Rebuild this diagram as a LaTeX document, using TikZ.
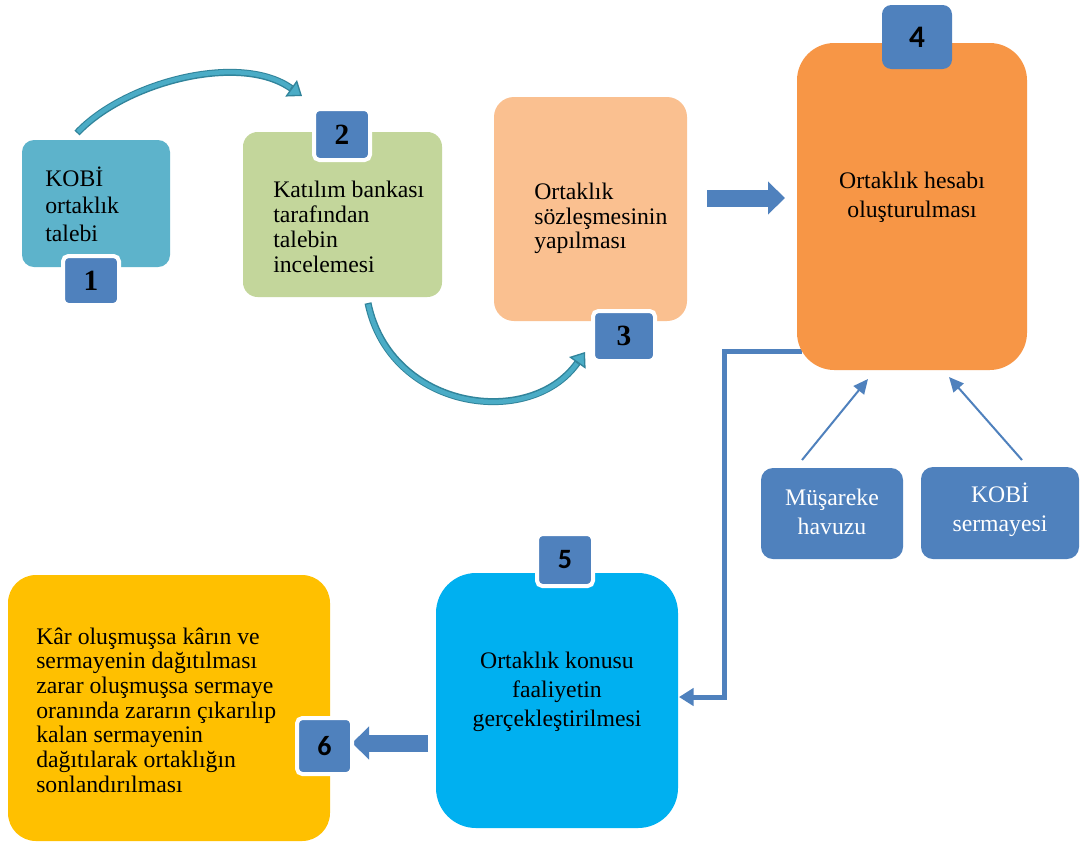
\documentclass[tikz,border=0pt]{standalone}
\usepackage{fontspec}
\setmainfont{Liberation Serif}
\newfontfamily\numsansfont{Carlito}
\usetikzlibrary{arrows.meta}
\definecolor{cBoxA}{HTML}{5DB3CB}
\definecolor{cBoxB}{HTML}{C3D69B}
\definecolor{cBoxC}{HTML}{FAC090}
\definecolor{cBoxD}{HTML}{F79646}
\definecolor{cBoxE}{HTML}{00B0F0}
\definecolor{cBoxF}{HTML}{FFC000}
\definecolor{cBlue}{HTML}{4F81BD}
\definecolor{cArcL}{HTML}{4BACC6}
\definecolor{cArcD}{HTML}{31849B}
\newcommand\pxu{0.75pt}
\begin{document}
\begin{tikzpicture}[x=0.75pt,y=-0.75pt,
  box/.style={rectangle, inner sep=0pt, draw=none},
  badge/.style={rectangle, inner sep=0pt, fill=cBlue, draw=white, line width=3pt, rounded corners=4pt},
  badgeplain/.style={rectangle, inner sep=0pt, fill=cBlue, draw=none, rounded corners=7pt},
  numserif/.style={font=\fontsize{22pt}{24pt}\selectfont\bfseries},
  numsans/.style={font=\fontsize{21pt}{24pt}\selectfont\numsansfont\bfseries},
  txt/.style={inner sep=0pt, font=\fontsize{17.8pt}{#1}\selectfont},
  arcout/.style={draw=cArcD, line width=7*\pxu, -{Triangle[length=10pt, width=15pt, fill=cArcL, line width=1pt]}},
  arcin/.style={draw=cArcL, line width=4.5*\pxu, shorten >=10.5pt, shorten <=1pt},
  fat/.style={draw=cBlue, line width=17*\pxu, -{Triangle[length=17*\pxu, width=32*\pxu]}},
  elbow/.style={draw=cBlue, line width=5*\pxu, -{Triangle[length=11pt, width=13pt]}},
  thin/.style={draw=cBlue, line width=2*\pxu, -{Triangle[length=11pt, width=10pt]}}
]
\useasboundingbox (0,0) rectangle (1080,843);
\fill[white] (0,0) rectangle (1080,843);

% connectors (under boxes)
\coordinate (a12s) at (77,133);
\coordinate (a12e) at (302,96);
\draw[arcout] (a12s) .. controls (125,82) and (240,52) .. (a12e);
\draw[arcin] (a12s) .. controls (125,82) and (240,52) .. (a12e);

\coordinate (a23s) at (368,303);
\coordinate (a23e) at (585,352);
\draw[arcout] (a23s) .. controls (390,410) and (530,430) .. (a23e);
\draw[arcin] (a23s) .. controls (390,410) and (530,430) .. (a23e);

\coordinate (f34s) at (707,198);
\coordinate (f34e) at (785,198);
\draw[fat] (f34s) -- (f34e);

\coordinate (e4s) at (802,351);
\coordinate (e4c1) at (724,351);
\coordinate (e4c2) at (724,697);
\coordinate (e5e) at (679,697);
\draw[elbow] (e4s) -- (e4c1) -- (e4c2) -- (e5e);

\coordinate (f56s) at (428,743);
\coordinate (f56e) at (352,743);
\draw[fat] (f56s) -- (f56e);

\coordinate (m1s) at (802,460);
\coordinate (m1e) at (868,379);
\draw[thin] (m1s) -- (m1e);
\coordinate (m2s) at (1022,460);
\coordinate (m2e) at (949,377);
\draw[thin] (m2s) -- (m2e);

% boxes
\node[box, fill=cBoxA, rounded corners=9pt, minimum width=148*\pxu, minimum height=127*\pxu] (b1) at (96,203.5) {};
\node[box, fill=cBoxB, rounded corners=11pt, minimum width=199*\pxu, minimum height=165*\pxu] (b2) at (342.5,214.5) {};
\node[box, fill=cBoxC, rounded corners=15pt, minimum width=193*\pxu, minimum height=224*\pxu] (b3) at (590.5,209) {};
\node[box, fill=cBoxD, rounded corners=28pt, minimum width=230*\pxu, minimum height=327*\pxu] (b4) at (912,206.5) {};
\node[box, fill=cBoxE, rounded corners=30pt, minimum width=242*\pxu, minimum height=255*\pxu] (b5) at (557,700.5) {};
\node[box, fill=cBoxF, rounded corners=21pt, minimum width=322*\pxu, minimum height=266*\pxu] (b6) at (169,708) {};
\node[box, fill=cBlue, rounded corners=9pt, minimum width=142*\pxu, minimum height=91*\pxu] (m1) at (832,513.5) {};
\node[box, fill=cBlue, rounded corners=9pt, minimum width=158*\pxu, minimum height=92*\pxu] (m2) at (1000,513) {};

% badges
\node[badge, numserif, minimum width=56*\pxu, minimum height=49*\pxu] (n1) at (91,280.5) {1};
\node[badge, numserif, minimum width=56*\pxu, minimum height=51*\pxu] (n2) at (342,134.5) {2};
\node[badge, numserif, minimum width=62*\pxu, minimum height=50*\pxu] (n3) at (624,336) {3};
\node[badgeplain, numsans, font=\fontsize{23.5pt}{26pt}\selectfont\numsansfont\bfseries, minimum width=70*\pxu, minimum height=64*\pxu] (n4) at (917,37) {4};
\node[badge, numsans, minimum width=56*\pxu, minimum height=52*\pxu] (n5) at (565,560) {5};
\node[badge, numsans, minimum width=55*\pxu, minimum height=56*\pxu] (n6) at (324.5,746) {6};

% texts
\node[txt=20.6pt, align=left, anchor=west] (t1) at (45,204) {KOBİ\\ortaklık\\talebi};
\node[txt=18.75pt, align=left, anchor=west] (t2) at (273,227) {Katılım bankası\\tarafından\\talebin\\incelemesi};
\node[txt=18.4pt, align=left, anchor=west] (t3) at (534,218.5) {Ortaklık\\sözleşmesinin\\yapılması};
\node[txt=22pt, align=center] (t4) at (912,197.5) {Ortaklık hesabı\\oluşturulması};
\node[txt=21.75pt, align=center] (t5) at (557,692) {Ortaklık konusu\\faaliyetin\\gerçekleştirilmesi};
\node[txt=18.5pt, align=left, anchor=west] (t6) at (36,710) {Kâr oluşmuşsa kârın ve\\sermayenin dağıtılması\\zarar oluşmuşsa sermaye\\oranında zararın çıkarılıp\\kalan sermayenin\\dağıtılarak ortaklığın\\sonlandırılması};
\node[txt=22pt, align=center, text=white] (tm1) at (832,512) {Müşareke\\havuzu};
\node[txt=22pt, align=center, text=white] (tm2) at (1000,510) {KOBİ\\sermayesi};
\end{tikzpicture}
\end{document}
